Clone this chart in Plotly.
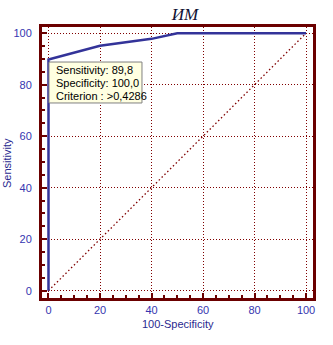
import plotly.graph_objects as go

# ROC curve points (100-Specificity, Sensitivity)
fpr = [0, 0, 20, 40, 50, 100]
tpr = [0, 89.8, 95.1, 97.8, 100, 100]

# reference diagonal
diag_x = [0, 100]
diag_y = [0, 100]

tick_vals = [0, 20, 40, 60, 80, 100]
box_lines = ["Sensitivity: 89,8", "Specificity: 100,0", "Criterion : >0,4286"]

frame = "#6b0000"
grid = "#800000"
label_col = "#3535b0"
title_col = "#2a2a90"

fig = go.Figure()
fig.add_trace(go.Scatter(x=diag_x, y=diag_y, mode="lines",
                         line=dict(color=grid, width=1.3, dash="1.5px,2.5px"),
                         hoverinfo="skip"))
fig.add_trace(go.Scatter(x=fpr, y=tpr, mode="lines",
                         line=dict(color="#333399", width=2.5),
                         hoverinfo="skip"))

axis_common = dict(
    tickvals=tick_vals, showgrid=True, gridcolor=grid, griddash="1px,2px",
    gridwidth=1.2, zeroline=False, showline=True, linecolor=frame,
    linewidth=3, mirror=True, ticks="inside", ticklen=5, tickwidth=1.5,
    tickcolor=frame, automargin=False,
    tickfont=dict(family="Liberation Sans", size=11, color=label_col),
    minor=dict(dtick=5, ticks="inside", ticklen=3, tickcolor=frame, tickwidth=1.5,
               showgrid=False),
)

fig.update_xaxes(range=[-2.52, 102.7], ticklabelstandoff=0, **axis_common)
fig.update_yaxes(range=[-2.83, 102.4], ticklabelstandoff=5, **axis_common)

# axis titles
fig.add_annotation(x=(177.5 - 42) / 271, y=(298 - 324) / 271, xref="paper", yref="paper",
                   xanchor="center", yanchor="middle",
                   text="100-Specificity", showarrow=False,
                   font=dict(family="Liberation Sans", size=11, color=title_col))
fig.add_annotation(x=(7 - 42) / 271, y=(298 - 163) / 271, xref="paper", yref="paper",
                   xanchor="center", yanchor="middle", textangle=-90,
                   text="Sensitivity", showarrow=False,
                   font=dict(family="Liberation Sans", size=11, color=title_col))

# criterion info box
fig.add_shape(type="rect", xref="x", yref="y", x0=0.19, x1=36.3, y0=72.9, y1=88.8,
              fillcolor="#ffffe1", line=dict(color="#808080", width=1), layer="above")
for line_text, ypos in zip(box_lines, [85.6, 80.5, 75.5]):
    fig.add_annotation(x=2.1, y=ypos, xref="x", yref="y", xanchor="left",
                       yanchor="middle", text=line_text, showarrow=False,
                       font=dict(family="Liberation Sans", size=11, color="#000000"))

fig.update_layout(
    width=333, height=345,
    margin=dict(l=42, r=20, t=27, b=47),
    paper_bgcolor="white", plot_bgcolor="white",
    showlegend=False,
    title=dict(text="<i>ИМ</i>", x=185 / 333, xanchor="center", y=1 - 14 / 345,
               yanchor="middle",
               font=dict(family="Liberation Serif", size=17, color="#111133")),
)

fig.write_html("out.html")
